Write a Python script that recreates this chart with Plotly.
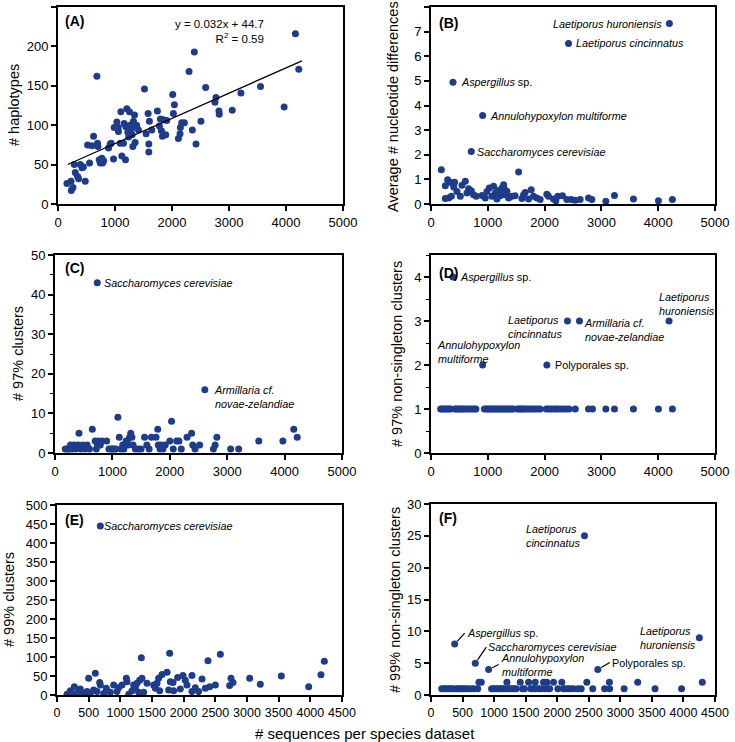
import plotly.graph_objects as go

# ---- data ----
# (A) haplotypes vs sequences
a_x = [157, 233, 262, 228, 286, 303, 344, 362, 391, 420, 445, 478, 519, 554, 595, 624, 683, 694, 700,
       723, 741, 770, 782, 800, 887, 916, 933, 974, 986, 1033, 1056, 1103, 1091, 1120, 1149, 1184, 1161,
       1208, 1225, 1254, 1266, 1278, 1295, 1313, 1324, 1342, 1353, 1412, 1517, 1546, 1581, 1593, 1593,
       1604, 1645, 1744, 1779, 1797, 1814, 1832, 1849, 1890, 1908, 2013, 2024, 2042, 2112, 2141, 2147,
       2170, 2217, 2299, 2357, 2392, 2421, 2508, 2590, 2754, 2771, 2824, 2829, 3057, 3209, 3553, 3967,
       4165, 4224, 1240, 1300, 1380, 1190, 1060]
a_y = [26, 17, 21, 29, 50, 40, 35, 32, 50, 46, 47, 29, 75, 52, 74, 86, 162, 77, 73,
       56, 52, 58, 52, 55, 71, 76, 77, 57, 97, 104, 97, 117, 77, 61, 77, 56, 102,
       121, 91, 117, 100, 90, 96, 73, 105, 113, 78, 94, 146, 89, 115, 76, 66,
       105, 94, 118, 99, 108, 93, 86, 107, 88, 106, 139, 115, 126, 83, 89, 97,
       103, 103, 168, 94, 193, 76, 105, 148, 129, 135, 118, 114, 119, 141, 149, 123,
       216, 171, 85, 88, 100, 98, 92]
trend_slope = 0.032
trend_intercept = 44.7
trend_x = [170, 4280]

# (B) average nucleotide differences
b_x = [4197, 2421, 387, 909, 709, 182, 1542, 252, 293, 340, 252, 311, 358, 399, 416, 457, 516, 545, 604,
       633, 662, 709, 750, 797, 897, 956, 985, 1026, 1073, 1102, 1131, 1161, 1190, 1219, 1249, 1278, 1307,
       1337, 1366, 1424, 1600, 1630, 1659, 1718, 1764, 1805, 1864, 1923, 2040, 2069, 2157, 2198, 2233,
       2315, 2392, 2468, 2538, 2626, 2773, 2832, 3078, 3230, 3564, 4004, 4250, 1290, 1250, 1180, 1480]
b_y = [7.33, 6.52, 4.94, 3.59, 2.13, 1.39, 1.30, 0.74, 0.98, 0.88, 0.22, 0.24, 0.31, 0.69, 0.88, 0.51, 0.31,
       0.76, 0.92, 0.45, 0.62, 0.54, 0.38, 0.31, 0.35, 0.24, 0.51, 0.65, 0.31, 0.72, 0.45, 0.20, 0.47, 0.34,
       0.65, 0.78, 0.38, 0.51, 0.24, 0.31, 0.22, 0.38, 0.47, 0.20, 0.58, 0.31, 0.24, 0.18, 0.40, 0.31, 0.20,
       0.13, 0.31, 0.34, 0.18, 0.18, 0.15, 0.18, 0.24, 0.18, 0.11, 0.35, 0.20, 0.13, 0.18, 0.62, 0.42, 0.55, 0.33]

# (C) 97% clusters
c_x = [737, 2610, 180, 210, 250, 270, 300, 330, 360, 400, 418, 450, 480, 520, 560, 600, 650, 700, 720, 740,
       760, 790, 820, 900, 940, 980, 1000, 1030, 1060, 1096, 1120, 1150, 1180, 1200, 1220, 1240, 1260, 1280,
       1300, 1320, 1340, 1360, 1400, 1450, 1500, 1560, 1600, 1640, 1680, 1760, 1790, 1800, 1830, 1850, 1880,
       1920, 2000, 2030, 2060, 2120, 2160, 2200, 2300, 2380, 2400, 2440, 2520, 2760, 2790, 2820, 3060, 3200,
       3550, 3970, 4160, 4220]
c_y = [43, 16, 1, 1, 1, 2, 1, 2, 1, 2, 5, 1, 2, 1, 2, 1, 6, 3, 1, 2,
       3, 2, 3, 3, 1, 1, 1, 1, 1, 9, 4, 1, 2, 1, 2, 3, 3, 2,
       4, 5, 4, 2, 1, 1, 1, 4, 2, 1, 4, 4, 6, 2, 1, 2, 1,
       2, 3, 8, 1, 3, 3, 1, 4, 5, 2, 1, 2, 1, 2, 4, 1, 1,
       3, 3, 6, 4]

# (D) 97% non-singleton clusters
d_x = [387, 2403, 2614, 4191, 909, 2040,
       170, 200, 230, 260, 290, 320, 350, 420, 450, 480, 510, 540, 570, 600, 640, 680, 720, 760, 790,
       940, 970, 1000, 1030, 1060, 1090, 1120, 1150, 1180, 1210, 1240, 1270, 1300, 1330, 1360, 1390, 1420,
       1450, 1520, 1550, 1580, 1610, 1640, 1680, 1720, 1760, 1800, 1840, 1880, 1920, 2030, 2070, 2110,
       2150, 2190, 2230, 2280, 2330, 2380, 2430, 2540, 2773, 2843, 3078, 3230, 3564, 4004, 4250]
d_y = [4, 3, 3, 3, 2, 2] + [1] * 67

# (E) 99% clusters
e_x = [684, 1332, 1779, 2579, 2384, 4221, 4168, 3542, 3042, 2747, 2290, 1989, 2131, 1737, 1658, 1905, 500, 605,
       3210, 3974, 2779, 2726, 2500, 2410, 2342, 2184, 2131, 2026, 2052, 1789, 1832, 1763, 1842, 1605, 1579,
       1553, 1526, 1421, 1342, 1305, 1263, 1237, 1210, 1184, 1105, 1095, 1026, 974, 947, 895, 779, 684, 674,
       632, 579, 474, 368, 326, 274, 211, 158, 237, 421, 526, 842, 737, 1132, 1289, 1368, 1621, 1947, 2236]
e_y = [445, 98, 110, 107, 90, 89, 53, 50, 44, 44, 42, 51, 51, 60, 54, 46, 44, 57,
       28, 22, 33, 25, 26, 22, 18, 19, 9, 39, 26, 35, 33, 13, 11, 44, 31,
       18, 26, 31, 44, 39, 31, 19, 26, 11, 35, 44, 26, 19, 9, 26, 18, 26, 33,
       9, 13, 9, 16, 6, 22, 11, 2, 4, 4, 4, 7, 4, 2, 7, 7, 11, 16, 9]

# (F) 99% non-singleton clusters
f_x = [2432, 375, 702, 913, 2643, 4252,
       797, 1203, 1414, 1546, 1651, 1783, 1835, 1941, 2073, 2469, 2827, 3275, 4299, 760,
       170, 200, 230, 260, 290, 320, 350, 400, 430, 460, 490, 520, 550, 590, 640, 680, 740,
       960, 990, 1020, 1050, 1080, 1110, 1140, 1170, 1230, 1260, 1290, 1320, 1350, 1450, 1480,
       1580, 1610, 1650, 1700, 1740, 1800, 1850, 1880, 2010, 2100, 2140, 2180, 2220, 2260, 2330, 2380,
       2563, 2750, 2830, 3060, 3550, 3970]
f_y = [25, 8, 5, 4, 4, 9] + [2] * 14 + [1] * 54

navy = "#1E3C8C"
font_family = "Liberation Sans, Arial, sans-serif"

fig = go.Figure()

panels = [(a_x, a_y), (b_x, b_y), (c_x, c_y), (d_x, d_y), (e_x, e_y), (f_x, f_y)]
for n, (px, py) in enumerate(panels, start=1):
    fig.add_trace(go.Scatter(x=px, y=py, mode="markers",
                             marker=dict(color=navy, size=7),
                             xaxis=f"x{n if n > 1 else ''}", yaxis=f"y{n if n > 1 else ''}",
                             showlegend=False))

# regression line in (A)
fig.add_trace(go.Scatter(x=trend_x, y=[trend_slope * v + trend_intercept for v in trend_x],
                         mode="lines", line=dict(color="black", width=1.3),
                         xaxis="x", yaxis="y", showlegend=False))


def px2fx(p):
    return p / 735


def px2fy(p):
    return 1 - p / 742


doms = {
    1: ([58, 343], [7, 204]),
    2: ([431, 715], [7, 204]),
    3: ([55, 342], [255, 453]),
    4: ([431, 715], [255, 453]),
    5: ([57, 342], [505, 695]),
    6: ([431, 715], [504, 695]),
}
yranges = {1: [0, 250], 2: [0, 8], 3: [0, 50], 4: [0, 4.5], 5: [0, 500], 6: [0, 30]}
ydt = {1: 50, 2: 1, 3: 10, 4: 1, 5: 50, 6: 5}
xranges = {1: [0, 5000], 2: [0, 5000], 3: [0, 5000], 4: [0, 5000], 5: [0, 4500], 6: [0, 4500]}
xdt = {1: 1000, 2: 1000, 3: 1000, 4: 1000, 5: 500, 6: 500}

axis_common = dict(showline=True, linecolor="black", linewidth=2, mirror=True,
                   ticks="outside", ticklen=5, tickwidth=1.5, tickcolor="black",
                   showgrid=False, zeroline=False, automargin=False,
                   tickfont=dict(family=font_family, size=13, color="black"))

layout = dict(width=735, height=742, margin=dict(l=0, r=0, t=0, b=0, autoexpand=False),
              plot_bgcolor="white", paper_bgcolor="white",
              font=dict(family=font_family, color="black"))
for n in range(1, 7):
    (x0, x1), (y0, y1) = doms[n]
    sfx = "" if n == 1 else str(n)
    xa = dict(axis_common, domain=[px2fx(x0), px2fx(x1)], range=xranges[n],
              dtick=xdt[n], tick0=0, anchor=f"y{sfx}", tickangle=0)
    if n >= 5:
        xa["tickfont"] = dict(family=font_family, size=12.5, color="black")
    layout[f"xaxis{sfx}"] = xa
    ya = dict(axis_common, domain=[px2fy(y1), px2fy(y0)], range=yranges[n],
              dtick=ydt[n], tick0=0, anchor=f"x{sfx}")
    if n == 3:
        ya["minor"] = dict(dtick=5, ticks="outside", ticklen=3, tickcolor="black", tickwidth=1.2)
    if n == 4:
        ya["minor"] = dict(dtick=0.5, ticks="outside", ticklen=3, tickcolor="black", tickwidth=1.2)
    layout[f"yaxis{sfx}"] = ya
fig.update_layout(**layout)

ann = []
lab_font = dict(family=font_family, size=10.8, color="black")

# panel letters
for letter, (x, y) in zip("ABCDEF", [(63, 21), (437, 23), (63, 268), (437, 273), (63, 520), (437, 518)]):
    ann.append(dict(text=f"<b>({letter})</b>", x=px2fx(x), y=px2fy(y), xref="paper", yref="paper",
                    xanchor="left", yanchor="middle", showarrow=False,
                    font=dict(family=font_family, size=14, color="black")))

# y-axis titles
ytitles = [("# haplotypes", 14, 105), ("Average # nucleotide differences", 393, 107),
           ("# 97% clusters", 18, 354), ("# 97% non-singleton clusters", 397, 354),
           ("# 99% clusters", 9, 600), ("# 99% non-singleton clusters", 395, 600)]
for t, x, y in ytitles:
    ann.append(dict(text=t, x=px2fx(x), y=px2fy(y), xref="paper", yref="paper", textangle=-90,
                    xanchor="center", yanchor="middle", showarrow=False,
                    font=dict(family=font_family, size=14.5, color="black")))

ann.append(dict(text="# sequences per species dataset", x=px2fx(365), y=px2fy(733), xref="paper", yref="paper",
                xanchor="center", yanchor="middle", showarrow=False,
                font=dict(family=font_family, size=15, color="black")))

# regression equation
ann.append(dict(text="y = 0.032x + 44.7<br>R<sup>2</sup> = 0.59", x=px2fx(266), y=px2fy(32),
                xref="paper", yref="paper", xanchor="right", yanchor="middle", align="right",
                showarrow=False, font=dict(family=font_family, size=11.5, color="black")))


def lab(text, ax, x, y, xanchor="left", yanchor="middle", xshift=0, yshift=0, align="left"):
    sfx = "" if ax == 1 else str(ax)
    ann.append(dict(text=text, x=x, y=y, xref=f"x{sfx}", yref=f"y{sfx}", xanchor=xanchor,
                    yanchor=yanchor, xshift=xshift, yshift=yshift, align=align,
                    showarrow=False, font=lab_font))


# (B)
lab("<i>Laetiporus huroniensis</i>", 2, b_x[0], b_y[0], xanchor="right", xshift=-5)
lab("<i>Laetiporus cincinnatus</i>", 2, b_x[1], b_y[1], xshift=5)
lab("<i>Aspergillus</i> sp.", 2, b_x[2], b_y[2], xshift=6)
lab("<i>Annulohypoxylon multiforme</i>", 2, b_x[3], b_y[3], xshift=5)
lab("<i>Saccharomyces cerevisiae</i>", 2, b_x[4], b_y[4], xshift=4)
# (C)
lab("<i>Saccharomyces cerevisiae</i>", 3, c_x[0], c_y[0], xshift=5)
lab("<i>Armillaria cf.<br>novae-zelandiae</i>", 3, c_x[1], c_y[1], yanchor="top", xshift=7, yshift=8)
# (D)
lab("<i>Aspergillus</i> sp.", 4, d_x[0], d_y[0], xshift=5)
lab("<i>Laetiporus<br>cincinnatus</i>", 4, d_x[1], d_y[1], xanchor="right", yanchor="top", xshift=-2, yshift=9)
lab("<i>Armillaria cf.<br>novae-zelandiae</i>", 4, d_x[2], d_y[2], yanchor="top", xshift=3, yshift=6)
lab("<i>Laetiporus<br>huroniensis</i>", 4, d_x[3], d_y[3], yanchor="bottom", xshift=-12, yshift=2)
lab("<i>Annulohypoxylon<br>multiforme</i>", 4, d_x[4], d_y[4], yanchor="bottom", xshift=-48, yshift=-2)
lab("Polyporales sp.", 4, d_x[5], d_y[5], xshift=6)
# (E)
lab("<i>Saccharomyces cerevisiae</i>", 5, e_x[0], e_y[0], xshift=2)
# (F)
lab("<i>Laetiporus<br>cincinnatus</i>", 6, f_x[0], f_y[0], xanchor="right", xshift=-1)
lab("<i>Laetiporus<br>huroniensis</i>", 6, f_x[5], f_y[5], xanchor="right", xshift=-1)
for i, text, dx, dy in [(1, "<i>Aspergillus</i> sp.", 10, -11),
                        (2, "<i>Saccharomyces cerevisiae</i>", 11, -16),
                        (3, "<i>Annulohypoxylon<br>multiforme</i>", 10, -5),
                        (4, "Polyporales sp.", 12, -7)]:
    ann.append(dict(text=text, x=f_x[i], y=f_y[i], xref="x6", yref="y6", ax=dx, ay=dy,
                    axref="pixel", ayref="pixel", xanchor="left", yanchor="middle", align="left",
                    showarrow=True, arrowhead=0, arrowwidth=1.2, arrowcolor="black", standoff=4,
                    font=lab_font))

fig.update_layout(annotations=ann)
fig.write_html("out.html", config={"displayModeBar": False},
               post_script="document.body.style.margin='0';document.body.style.overflow='hidden';")
